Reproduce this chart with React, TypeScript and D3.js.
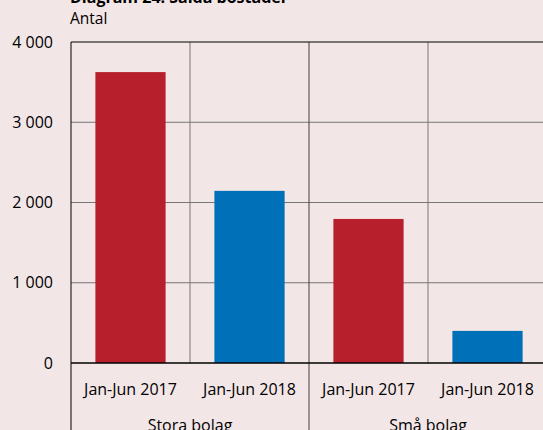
import React from "react";
import * as d3 from "d3";

const groups = ["Stora bolag", "Små bolag"];
const periods = ["Jan-Jun 2017", "Jan-Jun 2018"];
const values2017 = [3625, 1795];
const values2018 = [2145, 400];
const yTicks = [0, 1000, 2000, 3000, 4000];
const title = "Diagram 24. Sålda bostäder";
const yLabel = "Antal";

const W = 543, H = 430;
const BG = "#F3E6E7";
const RED = "#B81F2D";
const BLUE = "#0070B8";
const FONT = "'Open Sans', 'Liberation Sans', sans-serif";

export default function App() {
  const left = 71, top = 42, bottom = 363;
  const catW = 119;
  const rows = groups.flatMap((g, gi) => [
    { key: g + periods[0], group: g, period: periods[0], value: values2017[gi], color: RED },
    { key: g + periods[1], group: g, period: periods[1], value: values2018[gi], color: BLUE },
  ]);
  const x = d3.scaleBand<string>().domain(rows.map(r => r.key)).range([left, left + catW * rows.length]).paddingInner(0.41).paddingOuter(0.205);
  const outer = d3.scaleBand<string>().domain(rows.map(r => r.key)).range([left, left + catW * rows.length]);
  const y = d3.scaleLinear().domain([0, 4000]).range([bottom, top]);
  const fmt = (v: number) => d3.format(",")(v).replace(/,/g, " ");
  const right = left + catW * rows.length;
  return (
    <svg width={W} height={H} style={{ position: "absolute", left: 0, top: 0, background: BG, fontFamily: FONT }}>
      <rect x={0} y={0} width={W} height={H} fill={BG} />
      <text x={70} y={3} fontSize={16} fontWeight="bold" fill="#000">{title}</text>
      <text x={70} y={24} fontSize={15.5} fill="#000">{yLabel}</text>
      {yTicks.map(t => (
        <g key={t}>
          {t > 0 && t < 4000 && <line x1={left} x2={right} y1={y(t)} y2={y(t)} stroke="#767676" strokeWidth={1} />}
          <text x={53} y={y(t)} dy="0.35em" textAnchor="end" fontSize={16} fill="#000">{fmt(t)}</text>
        </g>
      ))}
      {rows.map((r, i) => i > 0 && (
        <line key={"v" + i} x1={outer(r.key)!} x2={outer(r.key)!} y1={top} y2={i % 2 === 0 ? H : bottom}
          stroke={i % 2 === 0 ? "#404040" : "#767676"} strokeWidth={1} />
      ))}
      {rows.map(r => (
        <rect key={r.key} x={x(r.key)!} width={x.bandwidth()} y={y(r.value)} height={y(0) - y(r.value)} fill={r.color} />
      ))}
      <line x1={left} x2={right} y1={top} y2={top} stroke="#000" strokeWidth={1} />
      <line x1={left} x2={left} y1={top} y2={H} stroke="#000" strokeWidth={1} />
      <line x1={left} x2={right} y1={bottom} y2={bottom} stroke="#000" strokeWidth={1.5} />
      {rows.map(r => (
        <text key={"l" + r.key} x={outer(r.key)! + outer.bandwidth() / 2} y={389} dy="0.35em" textAnchor="middle" fontSize={16} fill="#000">{r.period}</text>
      ))}
      {groups.map((g, gi) => (
        <text key={g} x={left + catW * (gi * 2 + 1)} y={425} dy="0.35em" textAnchor="middle" fontSize={16} fill="#000">{g}</text>
      ))}
    </svg>
  );
}
